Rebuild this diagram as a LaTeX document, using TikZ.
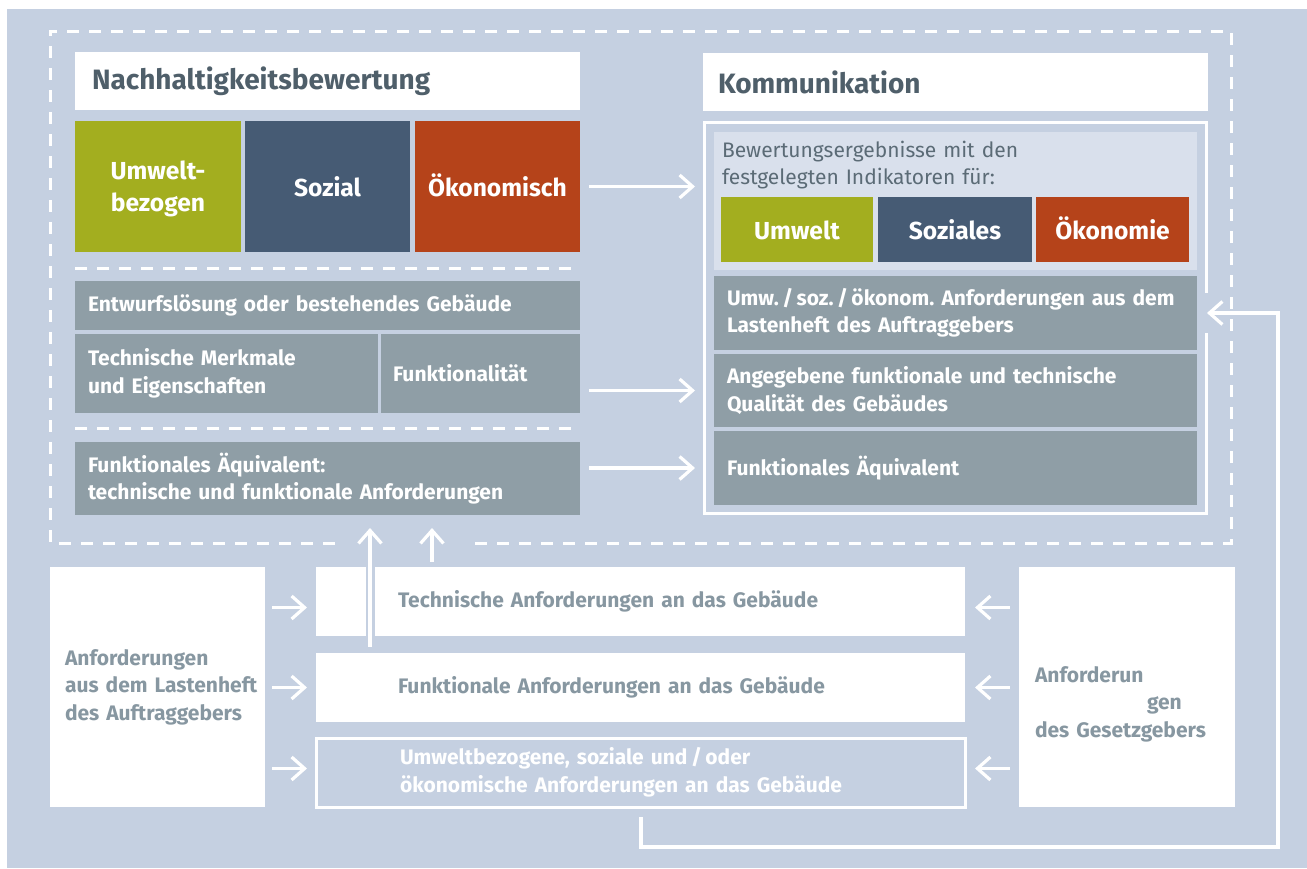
\documentclass[tikz,border=0pt]{standalone}
\usepackage{fontspec}
\setmainfont{Fira Sans}
\usetikzlibrary{arrows.meta,positioning}
\definecolor{bgc}{HTML}{C5D0E1}
\definecolor{panelc}{HTML}{D9E0EC}
\definecolor{umwc}{HTML}{A3AE1F}
\definecolor{sozc}{HTML}{465B74}
\definecolor{oekc}{HTML}{B5431A}
\definecolor{boxc}{HTML}{8F9EA6}
\definecolor{titlec}{HTML}{4F5F6A}
\definecolor{reqc}{HTML}{8797A1}
\definecolor{plainc}{HTML}{5B6B76}
\newcommand{\fntTitle}{\fontsize{14}{16}\selectfont\bfseries}
\newcommand{\fntBox}{\fontsize{10.5}{13.75}\selectfont\bfseries}
\newcommand{\fntCol}{\fontsize{12.3}{16}\selectfont\bfseries}
\newcommand{\fntPlain}{\fontsize{10.5}{13.5}\selectfont}
\frenchspacing

\begin{document}
\begin{tikzpicture}[x=0.5pt, y=-0.5pt,
  box/.style={anchor=north west, inner ysep=0pt, outer sep=0pt, align=left},
  titlebox/.style={box, fill=white, text=titlec, font=\fntTitle, minimum height=29pt},
  colbox/.style={anchor=north west, outer sep=0pt, inner sep=0pt, align=center,
    text=white, font=\fntCol, text depth=0pt},
  onerow/.style={text height=10pt},
  graybox/.style={box, fill=boxc, text=white, font=\fntBox},
  reqbox/.style={box, fill=white, text=reqc, font=\fntBox, minimum height=34.5pt},
  sepline/.style={draw=white, line width=1.5pt, dash pattern=on 6pt off 5pt},
  arr/.style={draw=white, line width=1.6pt, -{Straight Barb[length=6.5pt,width=11.5pt]}}]

  \useasboundingbox (0,0) rectangle (1307,868);
  \fill[white] (0,0) rectangle (1307,868);
  \fill[bgc] (7,9) rectangle (1307,868);

  % outer dashed frame (open at the bottom for the arrows)
  \draw[sepline] (335,543) -- (50,543) -- (50,31) -- (1231,31) -- (1231,543) -- (475,543);

  % Nachhaltigkeitsbewertung
  \node[titlebox, text width=235.5pt, inner xsep=8.5pt] (ntitle) at (75,52) {Nachhaltigkeitsbewertung};
  \node[colbox, fill=umwc, minimum width=83pt, minimum height=65.5pt] (umw) at (75,121) {Umwelt-\\bezogen};
  \node[colbox, onerow, fill=sozc, minimum width=82.5pt, minimum height=65.5pt] (soz) at (245,121) {Sozial};
  \node[colbox, onerow, fill=oekc, minimum width=82.5pt, minimum height=65.5pt] (oek) at (415,121) {Ökonomisch};
  \draw[sepline] (75,268) -- (580,268);
  \node[graybox, text width=239.5pt, inner xsep=6.5pt, minimum height=24.5pt] (entw) at (75,281) {Entwurfslösung oder bestehendes Gebäude};
  \node[graybox, text width=138.5pt, inner xsep=6.5pt, minimum height=39.5pt] (tech) at (75,334) {Technische Merkmale\\und Eigenschaften};
  \node[graybox, text width=87.5pt, inner xsep=6pt, minimum height=39.5pt] (funk) at (381,334) {Funktionalität};
  \draw[sepline] (75,428) -- (580,428);
  \node[graybox, text width=239.5pt, inner xsep=6.5pt, minimum height=36.5pt] (fae) at (75,442) {Funktionales Äquivalent:\\technische und funktionale Anforderungen};

  % Kommunikation
  \node[titlebox, text width=237.5pt, inner xsep=7.5pt] (ktitle) at (703,53) {Kommunikation};
  \node[box, inner sep=0pt, minimum width=252.5pt, minimum height=197pt] (kframe) at (703,121) {};
  \draw[white, line width=1.5pt] (1206.5,293) -- (1206.5,122.5) -- (704.5,122.5) -- (704.5,513.5) -- (1206.5,513.5) -- (1206.5,333);
  \node[box, fill=panelc, inner sep=0pt, minimum width=241.5pt, minimum height=69pt] (panel) at (714,132) {};
  \node[box, inner sep=0pt, text=plainc, font=\fntPlain, text width=230pt] (bew) at (722,141) {Bewertungsergebnisse mit den\\festgelegten Indikatoren für:};
  \node[colbox, onerow, fill=umwc, minimum width=76pt, minimum height=32.5pt] (umwR) at (721,197) {Umwelt};
  \node[colbox, onerow, fill=sozc, minimum width=77pt, minimum height=32.5pt] (sozR) at (878,197) {Soziales};
  \node[colbox, onerow, fill=oekc, minimum width=76.5pt, minimum height=32.5pt] (oekR) at (1036,197) {Ökonomie};
  \node[graybox, text width=228.5pt, inner xsep=6.5pt, minimum height=37pt] (anfR) at (714,276) {Umw.\,/\,soz.\,/\,ökonom. Anforderungen aus dem\\Lastenheft des Auftraggebers};
  \node[graybox, text width=228.5pt, inner xsep=6.5pt, minimum height=36.5pt] (angR) at (714,354) {Angegebene funktionale und technische\\Qualität des Gebäudes};
  \node[graybox, text width=228.5pt, inner xsep=6.5pt, minimum height=37pt] (faeR) at (714,431) {Funktionales Äquivalent};

  % Arrows to Kommunikation
  \draw[arr, shorten <=4.5pt, shorten >=4pt] (oek.east) -- (oek.east -| kframe.west);
  \draw[arr, shorten <=4.5pt, shorten >=4pt] (funk.east |- angR.west) -- (angR.west -| kframe.west);
  \draw[arr, shorten <=4.5pt, shorten >=4pt] (fae.east |- faeR.west) -- (faeR.west -| kframe.west);

  % Requirements
  \node[box, fill=white, text=reqc, font=\fntBox, text width=92.5pt, inner xsep=7.5pt, minimum height=120pt] (lasten) at (50,567) {Anforderungen\\\mbox{aus dem Lastenheft}\\des Auftraggebers};
  \node[box, fill=white, text=reqc, font=\fntBox, text width=92pt, inner xsep=8pt, minimum height=120pt, text height=25pt] (gesetz) at (1019,567) {Anforderun\\\hspace*{56pt}gen\\des Gesetzgebers};
  \node[reqbox, text width=242.5pt, inner xsep=41pt] (techA) at (316,567) {Technische Anforderungen an das Gebäude};
  \node[reqbox, text width=242.5pt, inner xsep=41pt] (funkA) at (316,653) {Funktionale Anforderungen an das Gebäude};
  \node[reqbox, fill=bgc, draw=white, line width=1.5pt, text=white, text width=240.5pt, inner xsep=42pt] (umwA) at (316,738) {Umweltbezogene, soziale und\,/\,oder\\ökonomische Anforderungen an das Gebäude};

  \draw[arr, shorten <=3.5pt, shorten >=4.5pt] ([yshift=-3pt]lasten.east |- techA.west) -- ([yshift=-3pt]techA.west);
  \draw[arr, shorten <=3.5pt, shorten >=4.5pt] (lasten.east |- funkA.west) -- (funkA.west);
  \draw[arr, shorten <=3.5pt, shorten >=4.5pt] ([yshift=2pt]lasten.east |- umwA.west) -- ([yshift=2pt]umwA.west);
  \draw[arr, shorten <=4.5pt, shorten >=5pt] ([yshift=-3pt]gesetz.west |- techA.east) -- ([yshift=-3pt]techA.east);
  \draw[arr, shorten <=4.5pt, shorten >=5pt] (gesetz.west |- funkA.east) -- (funkA.east);
  \draw[arr, shorten <=4.5pt, shorten >=5pt] ([yshift=2pt]gesetz.west |- umwA.east) -- ([yshift=2pt]umwA.east);

  % Upward arrows
  \coordinate (up1) at (370,647);
  \draw[bgc, line width=4.5pt] (up1) -- (up1 |- techA.north);
  \draw[arr, shorten >=6.5pt] (up1) -- (up1 |- fae.south);
  \draw[arr, shorten <=2.5pt, shorten >=6.5pt] ([xshift=58pt]techA.north west) -- ([xshift=58pt]techA.north west |- fae.south);

  % Feedback
  \coordinate (fb1) at (641,817);
  \coordinate (fb2) at (1278,847);
  \draw[arr, shorten >=5pt] (fb1) |- (fb2) |- (anfR.east);
\end{tikzpicture}
\end{document}
